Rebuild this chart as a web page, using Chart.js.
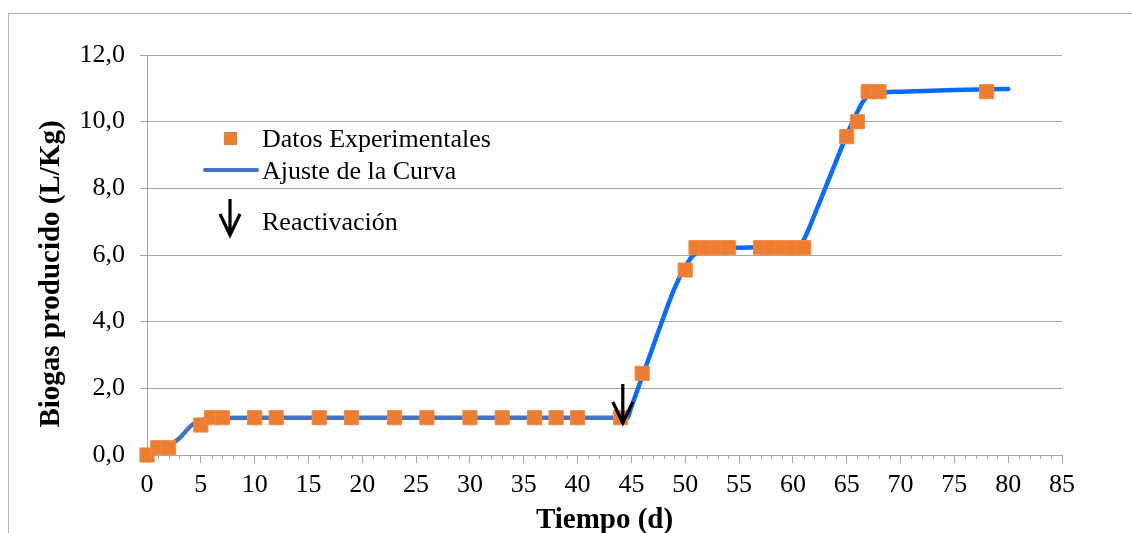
<!DOCTYPE html>
<html>
<head>
<meta charset="utf-8">
<script src="https://cdn.jsdelivr.net/npm/chart.js@4/dist/chart.umd.min.js"></script>
<style>
  body { margin: 0; background: #fff; overflow: hidden; }
  #frame { position: absolute; left: 8px; top: 13px; width: 1300px; height: 700px; border: 1px solid #b4b4b4; }
  #chart { position: absolute; left: 0; top: 0; }
</style>
</head>
<body>
<div id="frame"></div>
<canvas id="chart" width="1132" height="533"></canvas>
<script>
// datos experimentales
const expDays = [0, 1, 2, 5, 6, 7, 10, 12, 16, 19, 23, 26, 30, 33, 36, 38, 40, 44, 46, 50,
  51, 52, 53, 54, 57, 58, 59, 60, 61, 65, 66, 67, 68, 78];
const expBiogas = [0, 0.22, 0.22, 0.9, 1.12, 1.12, 1.12, 1.12, 1.12, 1.12, 1.12, 1.12, 1.12, 1.12, 1.12, 1.12, 1.12, 1.12, 2.45, 5.55,
  6.22, 6.22, 6.22, 6.22, 6.22, 6.22, 6.22, 6.22, 6.22, 9.55, 10.0, 10.9, 10.9, 10.9];

// ajuste de la curva
const fitDays = [0, 1, 2, 3, 4, 4.5, 5, 5.5, 6, 7, 10, 20, 30, 40, 44.6, 45, 46, 47, 48, 49, 50, 50.5, 51, 52, 53,
  55, 58, 60, 60.8, 61.5, 62, 63, 64, 65, 66, 66.5, 67, 67.5, 68, 70, 75, 80];
const fitBiogas = [0, 0.1, 0.28, 0.5, 0.85, 0.97, 1.04, 1.08, 1.1, 1.11, 1.12, 1.12, 1.12, 1.12, 1.12, 1.45, 2.35, 3.25, 4.15, 5.0, 5.65, 5.9, 6.05, 6.15, 6.2,
  6.22, 6.24, 6.26, 6.35, 6.8, 7.2, 8.0, 8.8, 9.6, 10.3, 10.6, 10.78, 10.85, 10.87, 10.9, 10.95, 10.98];

// flecha de reactivación
const reactDay = 44.2;
const reactTop = 2.13;
const reactTip = 0.96;

const xTicks = [0, 5, 10, 15, 20, 25, 30, 35, 40, 45, 50, 55, 60, 65, 70, 75, 80, 85];
const yTicks = [0, 2, 4, 6, 8, 10, 12];

const ORANGE = '#ED7D31';
const BLUE = '#4472C4';
const BRIGHT = '#0A6CFF';
const GRID = '#a6a6a6';
const SERIF = "'Liberation Serif', 'Times New Roman', serif";

function drawArrow(ctx, x, y0, y1) {
  ctx.save();
  ctx.strokeStyle = '#000';
  ctx.lineWidth = 3.2;
  ctx.beginPath();
  ctx.moveTo(x, y0);
  ctx.lineTo(x, y1);
  ctx.moveTo(x - 10, y1 - 21);
  ctx.lineTo(x, y1);
  ctx.lineTo(x + 10, y1 - 21);
  ctx.stroke();
  ctx.restore();
}

const extras = {
  id: 'extras',
  afterDraw(chart) {
    const ctx = chart.ctx;
    const xs = chart.scales.x, ys = chart.scales.y;
    const area = chart.chartArea;

    // ticks menores del eje x
    ctx.save();
    ctx.strokeStyle = GRID;
    ctx.lineWidth = 1;
    ctx.beginPath();
    for (let d = xs.min; d <= xs.max; d++) {
      if (d % 5 === 0) continue;
      const px = Math.round(xs.getPixelForValue(d)) + 0.5;
      ctx.moveTo(px, area.bottom);
      ctx.lineTo(px, area.bottom + 4);
    }
    ctx.stroke();
    ctx.restore();

    // flecha en el gráfico
    drawArrow(ctx, xs.getPixelForValue(reactDay), ys.getPixelForValue(reactTop), ys.getPixelForValue(reactTip));

    // títulos de ejes
    ctx.save();
    ctx.fillStyle = '#000';
    ctx.font = 'bold 29px ' + SERIF;
    ctx.textAlign = 'center';
    ctx.textBaseline = 'alphabetic';
    ctx.fillText('Tiempo (d)', (area.left + area.right) / 2, 528);
    ctx.translate(59, 274);
    ctx.rotate(-Math.PI / 2);
    ctx.fillText('Biogas producido (L/Kg)', 0, 0);
    ctx.restore();

    // leyenda
    ctx.save();
    ctx.fillStyle = ORANGE;
    ctx.fillRect(224, 132, 13, 13);
    ctx.strokeStyle = BLUE;
    ctx.lineWidth = 4;
    ctx.lineCap = 'round';
    ctx.beginPath();
    ctx.moveTo(205, 170);
    ctx.lineTo(257, 170);
    ctx.stroke();
    ctx.restore();
    drawArrow(ctx, 230, 199, 235);
    ctx.save();
    ctx.fillStyle = '#000';
    ctx.font = '26px ' + SERIF;
    ctx.textAlign = 'left';
    ctx.textBaseline = 'alphabetic';
    ctx.fillText('Datos Experimentales', 262, 147);
    ctx.fillText('Ajuste de la Curva', 262, 179);
    ctx.fillText('Reactivación', 262, 230);
    ctx.restore();
  }
};

const expPoints = expDays.map((d, i) => ({ x: d, y: expBiogas[i] }));
const fitPoints = fitDays.map((d, i) => ({ x: d, y: fitBiogas[i] }));

new Chart(document.getElementById('chart').getContext('2d'), {
  type: 'scatter',
  data: {
    datasets: [
      {
        label: 'Datos Experimentales',
        data: expPoints,
        order: 1,
        clip: false,
        pointStyle: 'rect',
        pointRadius: 10,
        pointBackgroundColor: ORANGE,
        pointBorderColor: '#F08A45',
        pointBorderWidth: 1
      },
      {
        label: 'Ajuste de la Curva',
        data: fitPoints,
        order: 2,
        clip: false,
        showLine: true,
        pointRadius: 0,
        borderWidth: 4.5,
        borderColor: BLUE,
        borderCapStyle: 'round',
        borderJoinStyle: 'round',
        cubicInterpolationMode: 'monotone',
        segment: {
          borderColor: c => c.p0.parsed.x >= 44.5 ? BRIGHT : BLUE
        }
      }
    ]
  },
  plugins: [extras],
  options: {
    responsive: false,
    animation: false,
    devicePixelRatio: 1,
    layout: { padding: { left: 0, top: 55, right: 70, bottom: 0 } },
    plugins: {
      legend: { display: false },
      tooltip: { enabled: false }
    },
    scales: {
      x: {
        type: 'linear',
        min: 0,
        max: 85,
        afterFit: s => { s.height = 78; },
        afterBuildTicks: s => { s.ticks = xTicks.map(v => ({ value: v })); },
        ticks: {
          autoSkip: false,
          maxRotation: 0,
          padding: 7,
          color: '#000',
          font: { family: SERIF, size: 26 }
        },
        grid: { drawOnChartArea: false, drawTicks: true, tickLength: 8, color: GRID },
        border: { display: true, color: GRID }
      },
      y: {
        min: 0,
        max: 12,
        afterFit: s => { s.width = 147; },
        afterBuildTicks: s => { s.ticks = yTicks.map(v => ({ value: v })); },
        ticks: {
          padding: 15,
          color: '#000',
          font: { family: SERIF, size: 26 },
          callback: v => v.toFixed(1).replace('.', ',')
        },
        grid: { color: GRID, tickLength: 7 },
        border: { display: true, color: GRID }
      }
    }
  }
});
</script>
</body>
</html>
